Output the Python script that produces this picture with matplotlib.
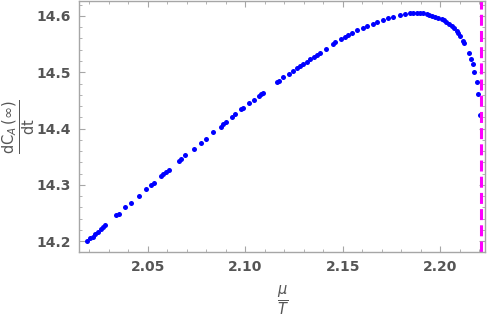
import numpy as np
import matplotlib
matplotlib.use('Agg')
import matplotlib.pyplot as plt
from matplotlib.ticker import MultipleLocator, FormatStrFormatter

# mu/T values and dC_A(inf)/dt
mu_T = [2.0188, 2.0205, 2.0219, 2.0232, 2.0246, 2.0260, 2.0270, 2.0282,
        2.0337, 2.0352, 2.0386, 2.0413, 2.0456, 2.0492, 2.0517, 2.0533,
        2.0567, 2.0580, 2.0596, 2.0610, 2.0659, 2.0673, 2.0693, 2.0736,
        2.0772, 2.0798, 2.0834, 2.0874, 2.0885, 2.0902, 2.0931, 2.0948,
        2.0977, 2.0990, 2.1021, 2.1045, 2.1069, 2.1079, 2.1093,
        2.1161, 2.1173, 2.1195, 2.1223, 2.1246, 2.1264, 2.1281, 2.1298,
        2.1315, 2.1332, 2.1352, 2.1368, 2.1383, 2.1412, 2.1448, 2.1462,
        2.1491, 2.1511, 2.1528, 2.1549, 2.1574, 2.1602, 2.1626, 2.1653,
        2.1677, 2.1708, 2.1733, 2.1759, 2.1793, 2.1819, 2.1844, 2.1861,
        2.1879, 2.1895, 2.1912, 2.1930, 2.1943, 2.1957, 2.1972, 2.1989,
        2.2007, 2.2018, 2.2029, 2.2046, 2.2058, 2.2070, 2.2084, 2.2092,
        2.2100, 2.2114, 2.2122, 2.2145, 2.2157, 2.2165, 2.2174, 2.2186,
        2.2194, 2.2203]
dCA = [14.200, 14.205, 14.208, 14.212, 14.217, 14.222, 14.225, 14.229,
       14.246, 14.248, 14.261, 14.268, 14.280, 14.292, 14.299, 14.304,
       14.316, 14.319, 14.323, 14.326, 14.343, 14.346, 14.353, 14.364,
       14.375, 14.382, 14.394, 14.403, 14.409, 14.412, 14.420, 14.426,
       14.434, 14.437, 14.445, 14.451, 14.457, 14.461, 14.464,
       14.483, 14.485, 14.491, 14.497, 14.503, 14.508, 14.511, 14.515,
       14.519, 14.523, 14.527, 14.531, 14.535, 14.541, 14.550, 14.553,
       14.559, 14.563, 14.567, 14.570, 14.575, 14.579, 14.582, 14.586,
       14.589, 14.593, 14.596, 14.599, 14.602, 14.604, 14.605, 14.605,
       14.605, 14.605, 14.605, 14.603, 14.602, 14.600, 14.598, 14.596,
       14.594, 14.592, 14.589, 14.586, 14.582, 14.579, 14.574, 14.569,
       14.564, 14.556, 14.552, 14.534, 14.523, 14.515, 14.501, 14.483,
       14.461, 14.424]
mu_T_crit = 2.2208

frame_col = '#a6a6a6'
text_col = '#555555'

fig = plt.figure(figsize=(4.91, 3.23), dpi=100)
ax = fig.add_axes([0.1609, 0.2198, 0.8269, 0.7771])

ax.plot(mu_T, dCA, 'o', color='blue', ms=3.6, mec='none')
ax.axvline(mu_T_crit, color='#ff00ff', lw=2.2, dashes=(3.6, 1.7))

ax.set_xlim(2.01486, 2.22285)
ax.set_ylim(14.1808, 14.6266)

ax.xaxis.set_major_locator(MultipleLocator(0.05))
ax.xaxis.set_minor_locator(MultipleLocator(0.01))
ax.yaxis.set_major_locator(MultipleLocator(0.1))
ax.yaxis.set_minor_locator(MultipleLocator(0.02))
ax.xaxis.set_major_formatter(FormatStrFormatter('%.2f'))
ax.yaxis.set_major_formatter(FormatStrFormatter('%.1f'))

ax.tick_params(which='both', direction='in', top=True, right=True,
               color=frame_col, labelcolor=text_col, labelsize=10)
ax.tick_params(which='major', length=4.5, width=0.8, pad=6)
ax.tick_params(which='minor', length=2.5, width=0.6)
for lab in ax.get_xticklabels() + ax.get_yticklabels():
    lab.set_fontweight('bold')
for s in ax.spines.values():
    s.set_color(frame_col)
    s.set_linewidth(1.0)

fig.text(0.039, 0.607, r'$\frac{\mathrm{dC}_{A}\,(\infty)}{\mathrm{dt}}$',
         rotation=90, ha='center', va='center', color=text_col, fontsize=15)
fig.text(0.576, 0.068, r'$\frac{\mu}{T}$',
         ha='center', va='center', color=text_col, fontsize=15)

fig.savefig('out.png', dpi=100)
